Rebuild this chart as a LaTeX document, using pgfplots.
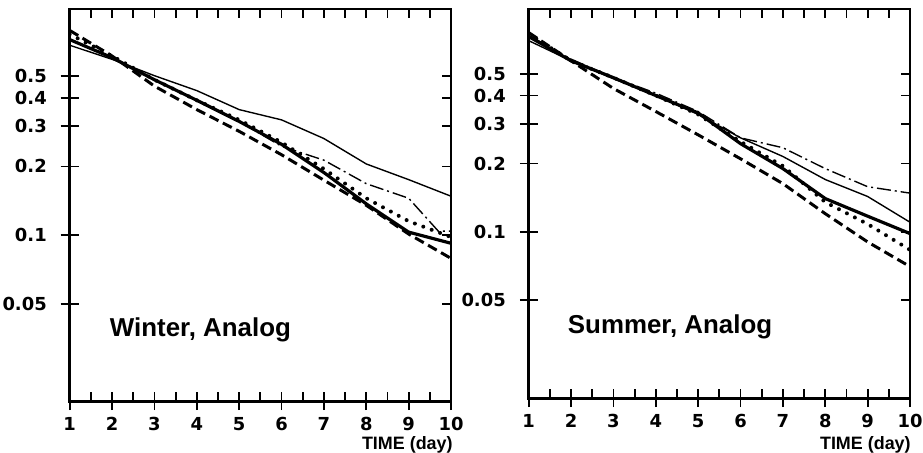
\documentclass[border=0pt]{standalone}
\usepackage{fontspec}
\setmainfont{Liberation Sans}
\newfontfamily\tickfont{DejaVu Sans}
\usepackage{pgfplots}
\pgfplotsset{compat=1.18}
\pgfplotsset{/pgf/number format/assume math mode=true}

\pgfplotsset{
  mainpanel/.style={
    scale only axis, width=191.5pt, height=197pt,
    xmin=1, xmax=10,
    xtick={1,...,10}, minor xtick={1.5,2.5,...,9.5},
    ytick={0.05,0.1,0.2,0.3,0.4,0.5},
    yticklabels={0.05,0.1,0.2,0.3,0.4,0.5},
    minor ytick={},
    xtick pos=left, ytick pos=left,
    tick align=center,
    major tick length=9pt, minor tick length=4.5pt,
    tick style={black, line width=0.9pt},
    minor tick style={yshift=2.25pt},
    axis line style={line width=1.3pt},
    ticklabel style={font=\tickfont\bfseries\fontsize{9}{10}\selectfont},
    yticklabel style={xshift=-3.5pt},
  },
  topright/.style={
    scale only axis, width=191.5pt, height=197pt,
    xmin=1, xmax=10,
    xtick={1,1.5,...,10}, ytick={0.05,0.1,0.2,0.3,0.4,0.5},
    minor ytick={},
    xticklabels={}, yticklabels={},
    xtick pos=right, ytick pos=right,
    tick align=inside, major tick length=4.5pt,
    tick style={black, line width=0.9pt},
    axis line style={line width=1.1pt},
  },
  thinsolid/.style={black, line width=0.7pt},
  dashdot/.style={black, line width=0.7pt, dash pattern=on 7pt off 2pt on 1pt off 2pt},
  thicksolid/.style={black, line width=1.6pt},
  thickdot/.style={black, line width=2pt, line cap=round, dash pattern=on 0pt off 4.5pt},
  thickdash/.style={black, line width=1.5pt, dash pattern=on 5pt off 2.5pt},
}

\begin{document}
\begin{tikzpicture}
\path[use as bounding box] (0,0) rectangle (463.5pt,227pt);

% Winter
\begin{axis}[ymode=log, mainpanel, at={(35pt,25.5pt)}, anchor=south west, ymin=0.01866, ymax=0.981]
\addplot[thinsolid] coordinates {(1,0.68)(2,0.59)(3,0.50)(4,0.43)(5,0.355)(6,0.32)(7,0.265)(8,0.205)(9,0.175)(10,0.148)};
\addplot[dashdot] coordinates {(1,0.72)(2,0.60)(3,0.48)(4,0.39)(5,0.315)(6,0.245)(7,0.213)(8,0.168)(9,0.145)(9.7,0.104)(10,0.104)};
\addplot[thicksolid] coordinates {(1,0.72)(2,0.60)(3,0.48)(4,0.39)(5,0.315)(6,0.25)(7,0.188)(8,0.137)(9,0.103)(10,0.092)};
\addplot[thickdot] coordinates {(1,0.76)(2,0.61)(3,0.48)(4,0.39)(5,0.32)(6,0.255)(7,0.195)(8,0.145)(9,0.115)(10,0.098)};
\addplot[thickdash] coordinates {(1,0.79)(2,0.61)(3,0.45)(4,0.355)(5,0.285)(6,0.225)(7,0.174)(8,0.135)(9,0.101)(10,0.079)};
\end{axis}
\begin{axis}[ymode=log, topright, at={(35pt,25.5pt)}, anchor=south west, ymin=0.01866, ymax=0.981]
\end{axis}

% Summer
\begin{axis}[ymode=log, mainpanel, at={(265.5pt,27pt)}, anchor=south west, height=195.5pt, ymin=0.0183, ymax=0.967]
\addplot[thinsolid] coordinates {(1,0.70)(2,0.57)(3,0.475)(4,0.40)(5,0.33)(6,0.26)(7,0.215)(8,0.17)(9,0.143)(10,0.11)};
\addplot[dashdot] coordinates {(1,0.74)(2,0.58)(3,0.48)(4,0.41)(5,0.34)(6,0.26)(7,0.235)(8,0.19)(9,0.158)(10,0.148)};
\addplot[thicksolid] coordinates {(1,0.73)(2,0.57)(3,0.48)(4,0.40)(5,0.335)(6,0.245)(7,0.19)(8,0.14)(9,0.117)(10,0.098)};
\addplot[thickdot] coordinates {(1,0.75)(2,0.57)(3,0.48)(4,0.40)(5,0.33)(6,0.25)(7,0.195)(8,0.135)(9,0.108)(10,0.083)};
\addplot[thickdash] coordinates {(1,0.76)(2,0.57)(3,0.43)(4,0.34)(5,0.268)(6,0.21)(7,0.163)(8,0.12)(9,0.09)(10,0.07)};
\end{axis}
\begin{axis}[ymode=log, topright, at={(265.5pt,27pt)}, anchor=south west, height=195.5pt, ymin=0.0183, ymax=0.967]
\end{axis}

\node[anchor=base west, inner sep=0pt, font=\bfseries\fontsize{13}{15}\selectfont] at (55pt,58pt) {Winter, Analog};
\node[anchor=base west, inner sep=0pt, font=\bfseries\fontsize{13}{15}\selectfont] at (285pt,59.5pt) {Summer, Analog};
\node[anchor=base east, font=\bfseries\fontsize{9}{10}\selectfont, inner sep=0pt] at (227.5pt,1.5pt) {TIME (day)};
\node[anchor=base east, font=\bfseries\fontsize{9}{10}\selectfont, inner sep=0pt] at (457.5pt,1.5pt) {TIME (day)};
\end{tikzpicture}
\end{document}
